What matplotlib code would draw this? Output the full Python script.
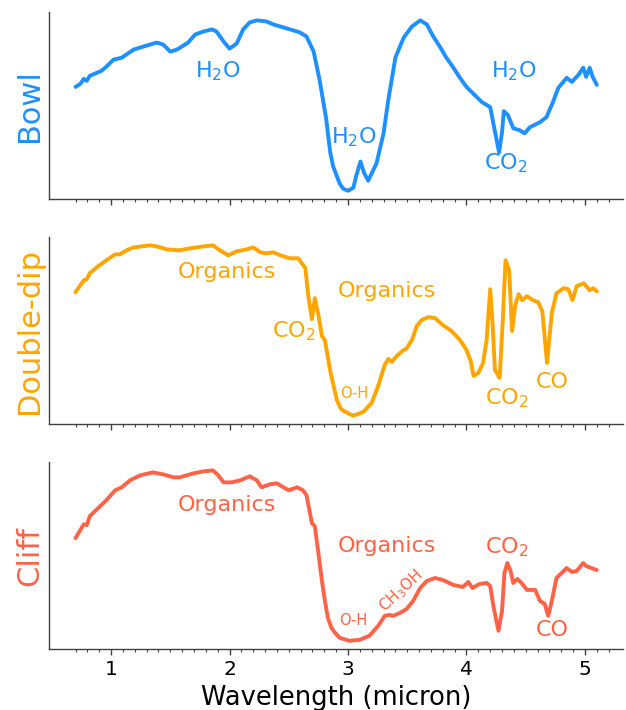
import numpy as np
import matplotlib
matplotlib.use("Agg")
import matplotlib.pyplot as plt
from matplotlib.ticker import FixedLocator

# Reflectance spectra (relative units) for three spectral types
bowl_wl = [0.70, 0.74, 0.77, 0.795, 0.82, 0.92, 0.96, 1.02, 1.09, 1.19, 1.245, 1.30, 1.385,
           1.44, 1.50, 1.555, 1.61, 1.65, 1.71, 1.78, 1.85, 1.89, 1.95, 2.00, 2.06, 2.115,
           2.17, 2.23, 2.31, 2.37, 2.455, 2.54, 2.595, 2.65, 2.71, 2.76, 2.815, 2.85, 2.875,
           2.93, 2.96, 3.00, 3.045, 3.07, 3.105, 3.135, 3.17, 3.24, 3.30, 3.34, 3.40, 3.47,
           3.54, 3.61, 3.665, 3.72, 3.78, 3.83, 3.89, 3.945, 4.00, 4.06, 4.13, 4.20, 4.225,
           4.275, 4.30, 4.315, 4.35, 4.395, 4.45, 4.49, 4.535, 4.62, 4.675, 4.73, 4.775,
           4.845, 4.89, 4.945, 4.985, 5.01, 5.04, 5.065, 5.10]
bowl_refl = [1.12, 1.15, 1.20, 1.18, 1.23, 1.28, 1.32, 1.39, 1.41, 1.49, 1.51, 1.53, 1.56,
             1.54, 1.47, 1.49, 1.53, 1.56, 1.64, 1.67, 1.69, 1.67, 1.57, 1.50, 1.55, 1.69,
             1.76, 1.78, 1.77, 1.74, 1.71, 1.68, 1.66, 1.62, 1.47, 1.19, 0.81, 0.47, 0.33,
             0.16, 0.11, 0.09, 0.12, 0.24, 0.38, 0.27, 0.19, 0.36, 0.66, 0.99, 1.41, 1.61,
             1.72, 1.78, 1.74, 1.62, 1.51, 1.41, 1.31, 1.21, 1.12, 1.05, 0.97, 0.92, 0.77,
             0.47, 0.67, 0.88, 0.84, 0.71, 0.69, 0.66, 0.72, 0.77, 0.82, 0.97, 1.11,
             1.21, 1.17, 1.24, 1.31, 1.22, 1.31, 1.22, 1.14]

dip_wl = [0.70, 0.77, 0.795, 0.82, 0.89, 0.96, 1.035, 1.075, 1.13, 1.19, 1.33, 1.385, 1.47,
          1.58, 1.665, 1.78, 1.86, 1.92, 1.99, 2.06, 2.145, 2.20, 2.26, 2.31, 2.37, 2.43,
          2.51, 2.58, 2.64, 2.665, 2.695, 2.72, 2.75, 2.78, 2.805, 2.85, 2.905, 2.94, 2.975,
          3.045, 3.13, 3.20, 3.255, 3.31, 3.34, 3.37, 3.41, 3.47, 3.49, 3.54, 3.58, 3.62,
          3.68, 3.735, 3.80, 3.875, 3.945, 4.00, 4.035, 4.06, 4.10, 4.14, 4.17, 4.20, 4.22,
          4.24, 4.26, 4.28, 4.305, 4.33, 4.36, 4.385, 4.41, 4.44, 4.47, 4.51, 4.56, 4.605,
          4.64, 4.68, 4.72, 4.76, 4.82, 4.86, 4.895, 4.93, 4.99, 5.04, 5.07, 5.10]
dip_refl = [1.32, 1.44, 1.45, 1.51, 1.58, 1.64, 1.70, 1.70, 1.74, 1.77, 1.79, 1.78, 1.75,
            1.74, 1.76, 1.78, 1.79, 1.74, 1.69, 1.73, 1.75, 1.77, 1.72, 1.71, 1.72, 1.69,
            1.66, 1.66, 1.56, 1.28, 1.05, 1.26, 1.09, 0.88, 0.84, 0.53, 0.24, 0.15, 0.12,
            0.08, 0.12, 0.21, 0.38, 0.59, 0.65, 0.62, 0.68, 0.74, 0.75, 0.84, 0.98, 1.04,
            1.07, 1.06, 0.99, 0.93, 0.84, 0.74, 0.63, 0.48, 0.51, 0.61, 0.84, 1.35, 1.01,
            0.54, 0.50, 0.46, 1.01, 1.64, 1.54, 0.93, 1.18, 1.30, 1.24, 1.28, 1.24, 1.22,
            1.13, 0.61, 1.11, 1.31, 1.36, 1.35, 1.24, 1.38, 1.41, 1.34, 1.36, 1.33]

cliff_wl = [0.70, 0.74, 0.77, 0.795, 0.82, 0.89, 0.96, 1.035, 1.09, 1.16, 1.245, 1.355, 1.44,
            1.525, 1.58, 1.695, 1.78, 1.86, 1.905, 1.95, 2.02, 2.09, 2.17, 2.23, 2.27, 2.34,
            2.40, 2.44, 2.50, 2.57, 2.62, 2.65, 2.695, 2.72, 2.75, 2.78, 2.805, 2.83, 2.86,
            2.89, 2.93, 3.01, 3.10, 3.18, 3.255, 3.31, 3.35, 3.38, 3.44, 3.495, 3.55, 3.61,
            3.665, 3.735, 3.80, 3.89, 3.97, 4.015, 4.05, 4.11, 4.17, 4.20, 4.23, 4.27, 4.30,
            4.32, 4.345, 4.37, 4.395, 4.43, 4.465, 4.51, 4.58, 4.62, 4.66, 4.69, 4.72, 4.76,
            4.82, 4.845, 4.89, 4.93, 4.985, 5.01, 5.055, 5.10]
cliff_refl = [1.11, 1.19, 1.25, 1.24, 1.33, 1.41, 1.49, 1.59, 1.62, 1.69, 1.74, 1.77, 1.75,
              1.72, 1.72, 1.76, 1.78, 1.79, 1.74, 1.67, 1.67, 1.69, 1.73, 1.69, 1.62, 1.65,
              1.66, 1.63, 1.59, 1.62, 1.59, 1.54, 1.26, 1.23, 0.96, 0.68, 0.48, 0.31, 0.21,
              0.16, 0.11, 0.08, 0.09, 0.13, 0.23, 0.33, 0.34, 0.33, 0.36, 0.40, 0.48, 0.61,
              0.68, 0.71, 0.69, 0.64, 0.62, 0.67, 0.61, 0.65, 0.66, 0.63, 0.41, 0.18, 0.38,
              0.76, 0.86, 0.79, 0.66, 0.70, 0.66, 0.59, 0.59, 0.48, 0.45, 0.33, 0.48, 0.71,
              0.78, 0.81, 0.77, 0.78, 0.86, 0.83, 0.81, 0.79]

panel_names = ["Bowl", "Double-dip", "Cliff"]
panel_colors = ["#1E90FF", "#FFA500", "#FF6347"]

# Band annotations: (label, wavelength, reflectance, fontsize, rotation)
bowl_notes = [("H$_2$O", 1.90, 1.28, 16, 0), ("H$_2$O", 3.05, 0.62, 16, 0),
              ("H$_2$O", 4.40, 1.28, 16, 0), ("CO$_2$", 4.33, 0.36, 16, 0)]
dip_notes = [("Organics", 1.975, 1.52, 16, 0), ("Organics", 3.33, 1.33, 16, 0),
             ("CO$_2$", 2.54, 0.93, 16, 0), ("O-H", 3.05, 0.30, 10.5, 0),
             ("CO$_2$", 4.34, 0.26, 16, 0), ("CO", 4.72, 0.42, 16, 0)]
cliff_notes = [("Organics", 1.975, 1.44, 16, 0), ("Organics", 3.33, 1.03, 16, 0),
               ("CO$_2$", 4.34, 1.02, 16, 0), ("CO", 4.72, 0.19, 16, 0),
               ("O-H", 3.045, 0.28, 10.5, 0), ("CH$_3$OH", 3.45, 0.58, 11, 43)]

spectra = [(bowl_wl, bowl_refl, bowl_notes),
           (dip_wl, dip_refl, dip_notes),
           (cliff_wl, cliff_refl, cliff_notes)]

fig = plt.figure(figsize=(6.26, 7.10), dpi=100)
left, width = 0.079, 0.916
bottoms = [0.7193, 0.4024, 0.0855]
height = 0.2640

minor_ticks = [round(v, 1) for v in np.arange(0.7, 5.25, 0.1)
               if abs(v - round(v)) > 1e-6]

axes = []
for i, ((wl, refl, notes), name, color) in enumerate(zip(spectra, panel_names, panel_colors)):
    ax = fig.add_axes([left, bottoms[i], width, height])
    ax.plot(wl, refl, color=color, lw=2.8, solid_capstyle="round",
            solid_joinstyle="round")
    for label, x, y, fs, rot in notes:
        ax.text(x, y, label, color=color, fontsize=fs, rotation=rot,
                ha="center", va="center")
    ax.set_ylabel(name, color=color, fontsize=22)
    ax.set_yticks([])
    for side in ("top", "right"):
        ax.spines[side].set_visible(False)
    for side in ("left", "bottom"):
        ax.spines[side].set_color("0.25")
        ax.spines[side].set_linewidth(1.0)
    ax.set_xticks([1, 2, 3, 4, 5])
    ax.xaxis.set_minor_locator(FixedLocator(minor_ticks))
    ax.tick_params(axis="x", which="major", length=4.5, width=1.0, color="0.25",
                   labelsize=14.5)
    ax.tick_params(axis="x", which="minor", length=2.2, width=0.8, color="0.25")
    if i < 2:
        ax.tick_params(axis="x", which="both", labelbottom=False)
    axes.append(ax)

xmin = min(bowl_wl[0], dip_wl[0], cliff_wl[0])
xmax = max(bowl_wl[-1], dip_wl[-1], cliff_wl[-1])
pad = 0.05 * (xmax - xmin)
for ax in axes:
    ax.set_xlim(xmin - pad, xmax + pad)

axes[-1].set_xlabel("Wavelength (micron)", fontsize=18.5, labelpad=4)

fig.savefig("out.png", dpi=100)
